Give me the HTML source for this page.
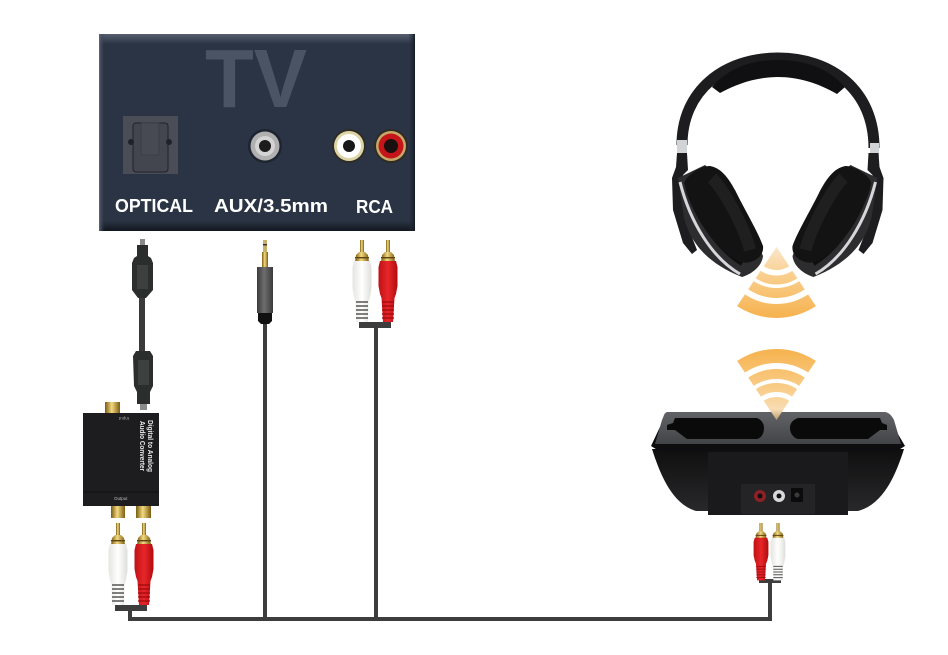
<!DOCTYPE html>
<html>
<head>
<meta charset="utf-8">
<style>
html,body{margin:0;padding:0;background:#fff;width:948px;height:655px;overflow:hidden}
svg{display:block}
text{font-family:"Liberation Sans",sans-serif}
</style>
</head>
<body>
<svg width="948" height="655" viewBox="0 0 948 655" xmlns="http://www.w3.org/2000/svg">
<defs>
  <linearGradient id="tvTop" x1="0" y1="0" x2="0" y2="1"><stop offset="0" stop-color="#566071"/><stop offset="1" stop-color="#2a3444"/></linearGradient>
  <linearGradient id="tvBot" x1="0" y1="0" x2="0" y2="1"><stop offset="0" stop-color="#2a3444"/><stop offset="1" stop-color="#11161e"/></linearGradient>
  <linearGradient id="tvL" x1="0" y1="0" x2="1" y2="0"><stop offset="0" stop-color="#5c6675"/><stop offset="1" stop-color="#2a3444" stop-opacity="0"/></linearGradient>
  <linearGradient id="tvR" x1="0" y1="0" x2="1" y2="0"><stop offset="0" stop-color="#2a3444" stop-opacity="0"/><stop offset="1" stop-color="#141a24"/></linearGradient>
  <linearGradient id="gold" x1="0" y1="0" x2="1" y2="0"><stop offset="0" stop-color="#7a5a10"/><stop offset=".45" stop-color="#f3da80"/><stop offset="1" stop-color="#7d5c12"/></linearGradient>
  <linearGradient id="redB" x1="0" y1="0" x2="1" y2="0"><stop offset="0" stop-color="#c01114"/><stop offset=".5" stop-color="#e8262a"/><stop offset="1" stop-color="#b00c0f"/></linearGradient>
  <linearGradient id="whiteB" x1="0" y1="0" x2="1" y2="0"><stop offset="0" stop-color="#e4e4e0"/><stop offset=".5" stop-color="#ffffff"/><stop offset="1" stop-color="#dededa"/></linearGradient>
  <linearGradient id="auxB" x1="0" y1="0" x2="1" y2="0"><stop offset="0" stop-color="#3c3c3c"/><stop offset=".45" stop-color="#6e6e6e"/><stop offset="1" stop-color="#3a3a3a"/></linearGradient>
  <linearGradient id="baseTop" x1="0" y1="0" x2="0" y2="1"><stop offset="0" stop-color="#626367"/><stop offset="1" stop-color="#434447"/></linearGradient>
  <linearGradient id="baseBody" x1="0" y1="0" x2="0" y2="1"><stop offset="0" stop-color="#0f0f10"/><stop offset="1" stop-color="#2a2a2c"/></linearGradient>
  <linearGradient id="wifiUp" gradientUnits="userSpaceOnUse" x1="0" y1="349" x2="0" y2="420"><stop offset="0" stop-color="#f6b24e"/><stop offset=".6" stop-color="#f9cf8e"/><stop offset=".85" stop-color="#f8dcb4"/><stop offset="1" stop-color="#b69a70"/></linearGradient>
  <linearGradient id="wifiDn" gradientUnits="userSpaceOnUse" x1="0" y1="318" x2="0" y2="247"><stop offset="0" stop-color="#f6b24e"/><stop offset=".6" stop-color="#f9cf8e"/><stop offset="1" stop-color="#fae6cc"/></linearGradient>
  <clipPath id="coneUp"><path d="M776.5 420 L716.5 330 L836.5 330 Z"/></clipPath>
  <clipPath id="coneDn"><path d="M776.5 247 L716.5 337 L836.5 337 Z"/></clipPath>

  <g id="rcaW">
    <rect x="-2" y="0" width="4" height="14" fill="url(#gold)"/>
    <path d="M-7 22 L-6 15 L-3 12 L3 12 L6 15 L7 22 Z" fill="url(#gold)"/>
    <rect x="-7" y="17" width="14" height="1.4" fill="#5d4510"/>
    <path d="M-8 21 L-9.500 27 L-9.500 48 L-8 57 L-6.500 62 L-6 82 L6 82 L6.500 62 L8 57 L9.500 48 L9.500 27 L8 21 Z" fill="url(#whiteB)"/>
    <path d="M-6 62h12M-6 66h12M-6 70h12M-6 74h12M-6 78h12" stroke="#555" stroke-width="1.4"/>
  </g>
  <g id="rcaR">
    <rect x="-2" y="0" width="4" height="14" fill="url(#gold)"/>
    <path d="M-7 22 L-6 15 L-3 12 L3 12 L6 15 L7 22 Z" fill="url(#gold)"/>
    <rect x="-7" y="17" width="14" height="1.4" fill="#5d4510"/>
    <path d="M-8 21 L-9.500 27 L-9.500 46 L-8 54 L-6.500 58 L-5 82 L5 82 L6.500 58 L8 54 L9.500 46 L9.500 27 L8 21 Z" fill="url(#redB)"/>
    <path d="M-6 62h12M-6 66h12M-6 70h12M-6 74h12M-6 78h12" stroke="#9a0b0d" stroke-width="1.2"/>
  </g>
  <g id="cup">
    <path d="M672 178 L673 210 L683 243 L692 254 L697 250 L686 222 L680 190 L683 175 L688 170 L687 153 L677 153 L676 167 Z" fill="#1d1d20"/>
    <path d="M678 178 L684 218 C690 240 704 262 742 277 C752 274 762 266 763 256 L735 190 L705 165 Z" fill="#2d2d30"/>
    <path d="M680 182 C690 222 712 258 740 274" fill="none" stroke="#d6d7da" stroke-width="3"/>
    <path d="M686 182 C696 216 716 248 742 264" fill="none" stroke="#0f0f10" stroke-width="4"/>
    <path d="M710 166 C722 168 730 180 737 194 C746 212 758 232 763 246 C764 254 758 260 750 262 C744 264 736 261 726 253 C712 241 700 224 692 206 C688 197 684 188 685 181 C688 175 700 166 710 166 Z" fill="#131314"/>
    <path d="M712 178 C724 190 744 226 750 250" fill="none" stroke="#1f1f20" stroke-width="12"/>
  </g>
</defs>

<!-- TV panel -->
<rect x="99" y="34" width="316" height="197" fill="#2a3444"/>
<rect x="99" y="34" width="316" height="10" fill="url(#tvTop)"/>
<rect x="99" y="221" width="316" height="10" fill="url(#tvBot)"/>
<rect x="99" y="34" width="6" height="197" fill="url(#tvL)"/>
<rect x="408" y="34" width="7" height="197" fill="url(#tvR)"/>
<text x="205" y="107" font-size="83" font-weight="bold" textLength="102" lengthAdjust="spacingAndGlyphs" fill="#4a5465">TV</text>

<!-- Optical port -->
<rect x="123" y="116" width="55" height="58" fill="#4a4d55"/>
<rect x="133" y="123" width="35" height="49" rx="3" fill="#43464e" stroke="#1f2128" stroke-width="1"/>
<rect x="141" y="123" width="18" height="32" fill="#474a52" stroke="#393b43" stroke-width=".8"/>
<circle cx="131" cy="142" r="3" fill="#20222a"/>
<circle cx="169" cy="142" r="3" fill="#20222a"/>

<!-- AUX jack -->
<circle cx="265" cy="146" r="17" fill="#1e2430"/>
<circle cx="265" cy="146" r="14.500" fill="#b0b0b0"/>
<circle cx="265" cy="146" r="10" fill="#d4d4d4"/>
<circle cx="265" cy="146" r="6" fill="#1c1c1c"/>

<!-- RCA jacks -->
<circle cx="349" cy="146" r="17" fill="#2e2c24"/>
<circle cx="349" cy="146" r="15" fill="#ddd5a8"/>
<circle cx="349" cy="146" r="12" fill="#ffffff"/>
<circle cx="349" cy="146" r="6" fill="#181818"/>
<circle cx="391" cy="146" r="17" fill="#2e2c24"/>
<circle cx="391" cy="146" r="15" fill="#c7a868"/>
<circle cx="391" cy="146" r="12.500" fill="#c4161a"/>
<circle cx="391" cy="146" r="7" fill="#1a1010"/>

<!-- TV labels -->
<text x="115" y="212" font-size="18.500" font-weight="bold" fill="#fff" textLength="78" lengthAdjust="spacingAndGlyphs">OPTICAL</text>
<text x="214" y="212" font-size="18.500" font-weight="bold" fill="#fff" textLength="114" lengthAdjust="spacingAndGlyphs">AUX/3.5mm</text>
<text x="356" y="213" font-size="18.500" font-weight="bold" fill="#fff" textLength="37" lengthAdjust="spacingAndGlyphs">RCA</text>

<!-- Cables -->
<g fill="#3d3d3d">
  <rect x="128" y="611" width="4" height="10"/>
  <rect x="128" y="617" width="644" height="4"/>
  <rect x="263" y="322" width="4" height="297"/>
  <rect x="374" y="326" width="4" height="293"/>
  <rect x="768" y="582" width="4" height="38"/>
  <rect x="115" y="605" width="32" height="6"/>
  <rect x="359" y="322" width="32" height="6"/>
  <rect x="759" y="579" width="22" height="4"/>
</g>

<!-- Optical cable -->
<rect x="139" y="296" width="6" height="58" fill="#3a3a3a"/>
<rect x="140" y="239" width="5" height="6" fill="#8a8a8a"/>
<path d="M137 245 L148 245 L148 256 L151 258 L153 263 L153 290 L146 298 L138 298 L132 290 L132 263 L134 258 L137 256 Z" fill="#2c2d2d"/>
<path d="M137 265h11v24h-11z" fill="#3e3f3f"/>
<path d="M136 351 L150 351 L153 356 L153 386 L150 392 L150 404 L137 404 L137 392 L134 386 L133 356 Z" fill="#2c2d2d"/>
<path d="M138 360h11v25h-11z" fill="#3e3f3f"/>
<rect x="140" y="404" width="7" height="6" fill="#8a8a8a"/>

<!-- Converter -->
<rect x="105" y="402" width="15" height="11" fill="url(#gold)"/>
<rect x="83" y="413" width="76" height="93" fill="#1d1d1f"/>
<path d="M83 492h76" stroke="#0e0e0e" stroke-width="1"/>
<rect x="111" y="506" width="14" height="12" fill="url(#gold)"/>
<rect x="136" y="506" width="15" height="12" fill="url(#gold)"/>
<text transform="translate(148 420) rotate(90)" font-size="7.500" font-weight="bold" fill="#e8e8e8" textLength="52" lengthAdjust="spacingAndGlyphs">Digital to Analog</text>
<text transform="translate(140 421) rotate(90)" font-size="7.500" font-weight="bold" fill="#e8e8e8" textLength="50" lengthAdjust="spacingAndGlyphs">Audio Converter</text>
<text transform="translate(129 417) rotate(180)" font-size="4.500" fill="#aaa">Input</text>
<text x="114" y="500" font-size="4.500" fill="#bbb">Output</text>

<!-- Lower-left RCA plugs -->
<use href="#rcaW" transform="translate(118 523)"/>
<use href="#rcaR" transform="translate(144 523)"/>

<!-- AUX plug -->
<rect x="263" y="240" width="4" height="14" fill="#c9b06a"/>
<rect x="263" y="244" width="4" height="1.500" fill="#333"/>
<rect x="262" y="252" width="6" height="15" fill="url(#gold)"/>
<rect x="257" y="267" width="16" height="46" fill="url(#auxB)"/>
<path d="M258 313h14l0 8 -3 3h-8l-3 -3z" fill="#111"/>

<!-- Middle RCA plugs -->
<use href="#rcaW" transform="translate(362 240)"/>
<use href="#rcaR" transform="translate(388 240)"/>

<!-- Headphones band -->
<path d="M682 145 C682 90 725 58 778 58 C831 58 874 90 874 148" fill="none" stroke="#1d1d20" stroke-width="11"/>
<path d="M712 87 C730 66 755 60 778 60 C802 60 826 66 845 87 L837 94 C818 83 798 77 778 77 C758 77 738 83 720 93 Z" fill="#101012"/>
<rect x="677" y="140" width="10" height="13" fill="#d2d3d6"/>
<rect x="870" y="143" width="9" height="14" fill="#d2d3d6"/>
<use href="#cup"/>
<use href="#cup" transform="translate(1555.500 0) scale(-1 1)"/>

<!-- Wifi downward (headphones) -->
<g clip-path="url(#coneDn)" fill="none" stroke="url(#wifiDn)">
  <circle cx="776.500" cy="247" r="64" stroke-width="14"/>
  <circle cx="776.500" cy="247" r="46" stroke-width="10"/>
  <circle cx="776.500" cy="247" r="33" stroke-width="9"/>
  <circle cx="776.500" cy="247" r="11.500" stroke-width="23"/>
</g>

<!-- Base station -->
<path d="M652 449 L904 449 C896 474 884 504 858 511 L848 511 L848 515 L708 515 L708 511 L696 511 C672 504 660 474 652 449 Z" fill="url(#baseBody)"/>
<path d="M708 452h140v63h-140z" fill="#1a1a1c"/>
<path d="M667 412 L885 412 L905 446 L897 451 L659 451 L651 446 Z" fill="#0e0e10"/>
<path d="M668 412 L884 412 C889 412 892 416 894 420 L901 444 L655 444 L662 420 C664 416 664 412 668 412 Z" fill="url(#baseTop)"/>
<path d="M675 418 L757 418 C762 420 764 424 764 428 C764 434 761 438 757 439 L687 439 L675 430 L667 430 L667 425 L673 423 Z" fill="#0a0a0b"/>
<path d="M798 418 L880 418 L882 423 L887 425 L887 430 L880 430 L868 439 L798 439 C794 438 790 434 790 428 C790 424 792 420 798 418 Z" fill="#0a0a0b"/>
<rect x="741" y="484" width="74" height="30" fill="#242426"/>
<circle cx="760" cy="496" r="6" fill="#8c2025"/>
<circle cx="760" cy="496" r="2.500" fill="#111"/>
<circle cx="779" cy="496" r="6" fill="#d8d8d8"/>
<circle cx="779" cy="496" r="2.500" fill="#111"/>
<rect x="791" y="488" width="12" height="14" fill="#0b0b0b"/>
<circle cx="797" cy="495" r="2.500" fill="#3a3a3a"/>

<!-- Wifi upward (base) -->
<g clip-path="url(#coneUp)" fill="none" stroke="url(#wifiUp)">
  <circle cx="776.500" cy="420" r="64" stroke-width="14"/>
  <circle cx="776.500" cy="420" r="46" stroke-width="10"/>
  <circle cx="776.500" cy="420" r="32.500" stroke-width="9"/>
  <circle cx="776.500" cy="420" r="11.500" stroke-width="23"/>
</g>

<!-- Right RCA plugs -->
<use href="#rcaR" transform="translate(761 523) scale(.78 .7)"/>
<use href="#rcaW" transform="translate(778 523) scale(.78 .7)"/>
</svg>
</body>
</html>
